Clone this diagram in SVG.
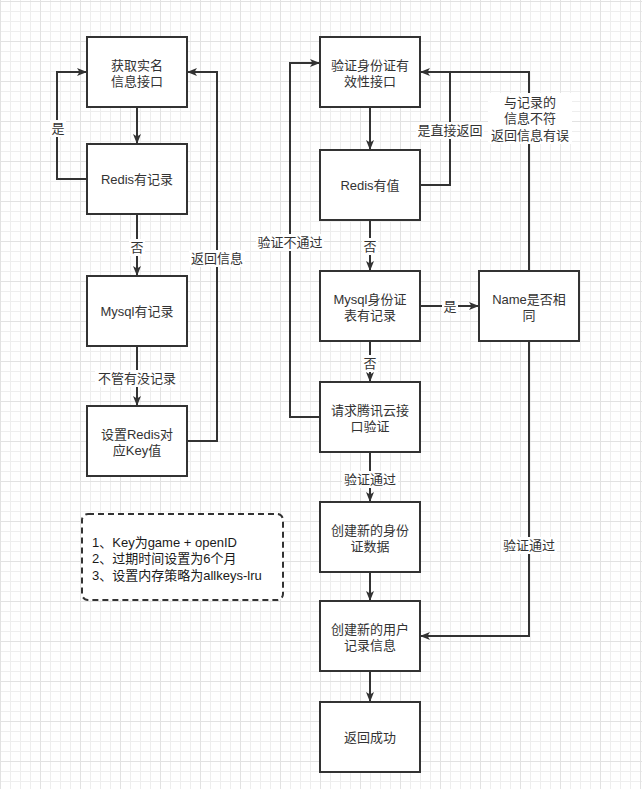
<svg xmlns="http://www.w3.org/2000/svg" width="642" height="789" viewBox="0 0 642 789">
<defs>
<pattern id="grid" patternUnits="userSpaceOnUse" x="0" y="1" width="40" height="40">
<path d="M10.5,0V40M20.5,0V40M30.5,0V40M0,10.5H40M0,20.5H40M0,30.5H40" stroke="#eeeeee" stroke-width="1" fill="none"/>
<path d="M0.5,0V40M0,0.5H40" stroke="#e2e2e2" stroke-width="1" fill="none"/>
</pattern>
<marker id="arr" viewBox="0 0 10 8" refX="10" refY="4" markerWidth="10" markerHeight="8" markerUnits="userSpaceOnUse" orient="auto">
<path d="M0,0 L10,4 L0,8 L2.5,4 Z" fill="#333333"/>
</marker>
<style>
.box{fill:#ffffff;stroke:#333333;stroke-width:2}
.t{font-family:"Liberation Sans","Noto Sans CJK SC",sans-serif;font-size:13px;fill:#333333;text-anchor:middle}
.n{font-family:"Liberation Sans","Noto Sans CJK SC",sans-serif;font-size:13px;fill:#1a1a1a;text-anchor:start}
.e{fill:none;stroke:#333333;stroke-width:2;marker-end:url(#arr)}
.l{fill:none;stroke:#333333;stroke-width:2}
.bg{fill:#ffffff}
</style>
</defs>
<rect width="642" height="789" fill="#ffffff"/>
<rect width="642" height="789" fill="url(#grid)"/>

<g id="connectors">
<path class="e" d="M137,107V144"/>
<path class="e" d="M87,179H57V72H87"/>
<path class="e" d="M137,214V276"/>
<path class="e" d="M137,346V406"/>
<path class="e" d="M187,441H217V72H187"/>
<path class="e" d="M370,107V150"/>
<path class="e" d="M420,185H450V72H420"/>
<path class="l" d="M529,271V72H450"/>
<path class="e" d="M370,220V271"/>
<path class="e" d="M420,306H479"/>
<path class="e" d="M370,341V382"/>
<path class="e" d="M320,417H290V63H320"/>
<path class="e" d="M370,452V502"/>
<path class="e" d="M370,572V601"/>
<path class="e" d="M529,341V636H420"/>
<path class="e" d="M370,671V702"/>
<g id="edge-labels">
<rect class="bg" x="50" y="120" width="16" height="17"/><text class="t" x="58" y="133">是</text>
<rect class="bg" x="129" y="239" width="16" height="17"/><text class="t" x="137" y="252">否</text>
<rect class="bg" x="95" y="370" width="84" height="17"/><text class="t" x="137" y="383">不管有没记录</text>
<rect class="bg" x="189" y="250" width="56" height="17"/><text class="t" x="217" y="263">返回信息</text>
<rect class="bg" x="416" y="122" width="68" height="17"/><text class="t" x="450" y="135">是直接返回</text>
<rect class="bg" x="488" y="93" width="84" height="51"/>
<text class="t" x="530" y="107">与记录的</text>
<text class="t" x="530" y="123">信息不符</text>
<text class="t" x="530" y="140">返回信息有误</text>
<rect class="bg" x="362" y="238" width="16" height="17"/><text class="t" x="370" y="251">否</text>
<rect class="bg" x="442" y="298" width="16" height="17"/><text class="t" x="450" y="311">是</text>
<rect class="bg" x="362" y="355" width="16" height="17"/><text class="t" x="370" y="368">否</text>
<rect class="bg" x="256" y="234" width="68" height="17"/><text class="t" x="290" y="247">验证不通过</text>
<rect class="bg" x="342" y="471" width="56" height="17"/><text class="t" x="370" y="484">验证通过</text>
<rect class="bg" x="501" y="537" width="56" height="17"/><text class="t" x="529" y="550">验证通过</text>
</g>
</g>

<g id="n1"><rect class="box" x="87" y="37" width="100" height="70"/><text class="t" x="137" y="70">获取实名</text><text class="t" x="137" y="86">信息接口</text></g>
<g id="n2"><rect class="box" x="87" y="144" width="100" height="70"/><text class="t" x="137" y="184">Redis有记录</text></g>
<g id="n3"><rect class="box" x="87" y="276" width="100" height="70"/><text class="t" x="137" y="316">Mysql有记录</text></g>
<g id="n4"><rect class="box" x="87" y="406" width="100" height="70"/><text class="t" x="137" y="439">设置Redis对</text><text class="t" x="137" y="455">应Key值</text></g>
<g id="note"><rect x="82" y="514" width="201" height="86" rx="6" ry="6" fill="#ffffff" stroke="#333333" stroke-width="2" stroke-dasharray="6,4"/>
<text class="n" x="92" y="547">1、Key为game + openID</text>
<text class="n" x="92" y="563">2、过期时间设置为6个月</text>
<text class="n" x="92" y="580">3、设置内存策略为allkeys-lru</text></g>
<g id="m1"><rect class="box" x="320" y="37" width="100" height="70"/><text class="t" x="370" y="70">验证身份证有</text><text class="t" x="370" y="86">效性接口</text></g>
<g id="m2"><rect class="box" x="320" y="150" width="100" height="70"/><text class="t" x="370" y="190">Redis有值</text></g>
<g id="m3"><rect class="box" x="320" y="271" width="100" height="70"/><text class="t" x="370" y="304">Mysql身份证</text><text class="t" x="370" y="320">表有记录</text></g>
<g id="m4"><rect class="box" x="479" y="271" width="100" height="70"/><text class="t" x="529" y="304">Name是否相</text><text class="t" x="529" y="320">同</text></g>
<g id="m5"><rect class="box" x="320" y="382" width="100" height="70"/><text class="t" x="370" y="415">请求腾讯云接</text><text class="t" x="370" y="431">口验证</text></g>
<g id="m6"><rect class="box" x="320" y="502" width="100" height="70"/><text class="t" x="370" y="535">创建新的身份</text><text class="t" x="370" y="551">证数据</text></g>
<g id="m7"><rect class="box" x="320" y="601" width="100" height="70"/><text class="t" x="370" y="634">创建新的用户</text><text class="t" x="370" y="650">记录信息</text></g>
<g id="m8"><rect class="box" x="320" y="702" width="100" height="70"/><text class="t" x="370" y="742">返回成功</text></g>
</svg>
